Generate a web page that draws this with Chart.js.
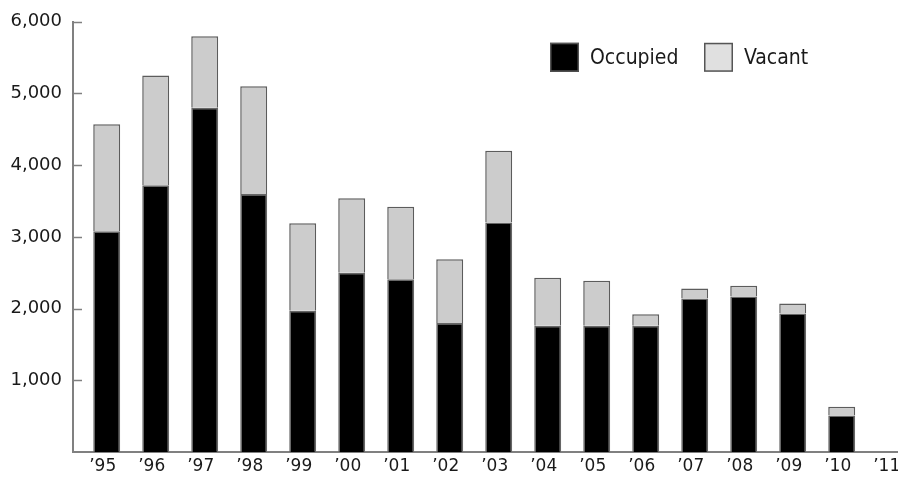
<!DOCTYPE html>
<html>
<head>
<meta charset="utf-8">
<script src="https://cdn.jsdelivr.net/npm/chart.js@4.4.1/dist/chart.umd.min.js"></script>
<style>
  html, body { margin: 0; padding: 0; background: #ffffff; }
  #wrap { width: 898px; height: 485px; position: relative; }
</style>
</head>
<body>
<div id="wrap"><canvas id="c" width="898" height="485"></canvas></div>
<script>
const years = ["\u201995","\u201996","\u201997","\u201998","\u201999","\u201900","\u201901","\u201902","\u201903","\u201904","\u201905","\u201906","\u201907","\u201908","\u201909","\u201910","\u201911"];
const occupied = [3080, 3720, 4800, 3600, 1970, 2500, 2410, 1800, 3200, 1760, 1760, 1760, 2140, 2170, 1930, 510, null];
const vacant   = [1490, 1530, 1000, 1500, 1220, 1040, 1010,  890, 1000,  670,  630,  160,  140,  150,  140, 120, null];
const yTicks = [0, 1000, 2000, 3000, 4000, 5000, 6000];
const seriesNames = ["Occupied", "Vacant"];

const toPoints = arr => arr.map((v, i) => ({ x: i, y: v }));
const AXIS = '#808080';
const TXT = '#1a1a1a';
const FONT = "'DejaVu Sans', 'Noto Sans', sans-serif";

const innerTicks = {
  id: 'innerTicks',
  afterDraw(chart) {
    const y = chart.scales.y, ca = chart.chartArea, ctx = chart.ctx;
    ctx.save();
    ctx.strokeStyle = AXIS;
    ctx.lineWidth = 1.5;
    y.ticks.forEach(t => {
      if (t.value <= 0) return;
      const py = Math.round(y.getPixelForValue(t.value)) + 0.5;
      ctx.beginPath();
      ctx.moveTo(ca.left, py);
      ctx.lineTo(ca.left + 9, py);
      ctx.stroke();
    });
    ctx.restore();
  }
};

const boxLegend = {
  id: 'boxLegend',
  afterDraw(chart, args, opts) {
    const ctx = chart.ctx, ca = chart.chartArea;
    ctx.save();
    chart.data.datasets.forEach((ds, i) => {
      const bx = ca.left + opts.offsets[i];
      const by = ca.top + opts.top;
      const s = opts.size;
      ctx.fillStyle = opts.fills[i];
      ctx.fillRect(bx, by, s, s);
      ctx.strokeStyle = '#555555';
      ctx.lineWidth = 1.5;
      ctx.strokeRect(bx + 0.75, by + 0.75, s - 1.5, s - 1.5);
      ctx.fillStyle = TXT;
      ctx.font = opts.font;
      ctx.textBaseline = 'middle';
      ctx.textAlign = 'left';
      ctx.fillText(ds.label, bx + s + 11, by + s / 2 + 1);
    });
    ctx.restore();
  }
};

new Chart(document.getElementById('c'), {
  type: 'bar',
  data: {
    datasets: [
      { label: seriesNames[0], data: toPoints(occupied), backgroundColor: '#000000', borderColor: '#666666', borderWidth: 1.5 },
      { label: seriesNames[1], data: toPoints(vacant), backgroundColor: '#cccccc', borderColor: '#5c5c5c', borderWidth: 1.5 }
    ]
  },
  plugins: [innerTicks, boxLegend],
  options: {
    responsive: false,
    animation: false,
    devicePixelRatio: 1,
    layout: { padding: { top: 20, right: 0, bottom: 0, left: 0 } },
    categoryPercentage: 1.0,
    barPercentage: 0.55,
    plugins: {
      legend: { display: false },
      tooltip: { enabled: false },
      boxLegend: {
        offsets: [477, 631],
        top: 21,
        size: 29,
        fills: ['#000000', '#e0e0e0'],
        font: "21px 'Liberation Sans Narrow', 'DejaVu Sans Condensed', 'DejaVu Sans', sans-serif"
      }
    },
    scales: {
      x: {
        type: 'linear',
        stacked: true,
        offset: false,
        min: -0.688,
        max: 16.149,
        grid: { display: false, drawTicks: false, offset: false },
        border: { display: true, color: AXIS, width: 2 },
        afterBuildTicks: s => { s.ticks = years.map((_, i) => ({ value: i })); },
        afterFit: s => { s.height = 33; s.paddingLeft = 0; s.paddingRight = 0; },
        ticks: {
          autoSkip: false, maxRotation: 0, minRotation: 0,
          padding: 4,
          labelOffset: -4,
          color: TXT,
          font: { family: FONT, size: 17 },
          callback: v => years[v]
        }
      },
      y: {
        stacked: true,
        min: 0,
        max: 6000,
        afterBuildTicks: s => { s.ticks = yTicks.map(v => ({ value: v })); },
        afterFit: s => { s.width = 73; },
        grid: { display: false, drawTicks: false },
        border: { display: true, color: AXIS, width: 2 },
        ticks: {
          padding: 11,
          color: TXT,
          font: { family: FONT, size: 18 },
          callback: v => v === 0 ? '' : v.toLocaleString('en-US')
        }
      }
    }
  }
});
</script>
</body>
</html>
